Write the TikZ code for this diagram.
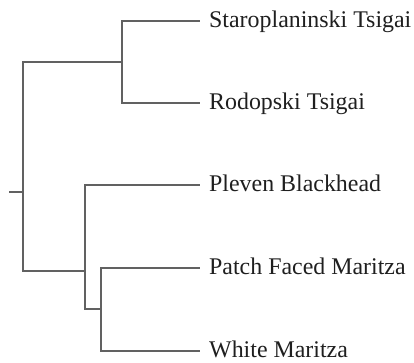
\documentclass[tikz,border=0pt]{standalone}
\usepackage{fontspec}
\setmainfont{Liberation Serif}
\begin{document}
\begin{tikzpicture}[x=1pt,y=-1pt,
  branch/.style={draw=black!62, line width=1.3pt},
  lab/.style={anchor=base west, inner sep=0pt, font=\fontsize{23.9}{28}\selectfont, text=black!88}]
\useasboundingbox[fill=white] (0,0) rectangle (414,362);
% internal nodes
\coordinate (r0) at (9,192);
\coordinate (root) at (23,192);
\coordinate (A) at (122,62);
\coordinate (B) at (85,271);
\coordinate (C) at (101,309);
% leaf ends
\coordinate (l1) at (200,21);
\coordinate (l2) at (200,103);
\coordinate (l3) at (200,185);
\coordinate (l4) at (200,268);
\coordinate (l5) at (200,351);
% labels
\node[lab] (t1) at (209,27) {Staroplaninski Tsigai};
\node[lab] (t2) at (209,109) {Rodopski Tsigai};
\node[lab] (t3) at (209,191) {Pleven Blackhead};
\node[lab] (t4) at (209,274) {Patch Faced Maritza};
\node[lab] (t5) at (209,357) {White Maritza};
% branches
\draw[branch] (r0) -- (root);
\draw[branch] (root) |- (A);
\draw[branch] (root) |- (B);
\draw[branch] (A) |- (l1);
\draw[branch] (A) |- (l2);
\draw[branch] (B) |- (l3);
\draw[branch] (B) |- (C);
\draw[branch] (C) |- (l4);
\draw[branch] (C) |- (l5);
\end{tikzpicture}
\end{document}
